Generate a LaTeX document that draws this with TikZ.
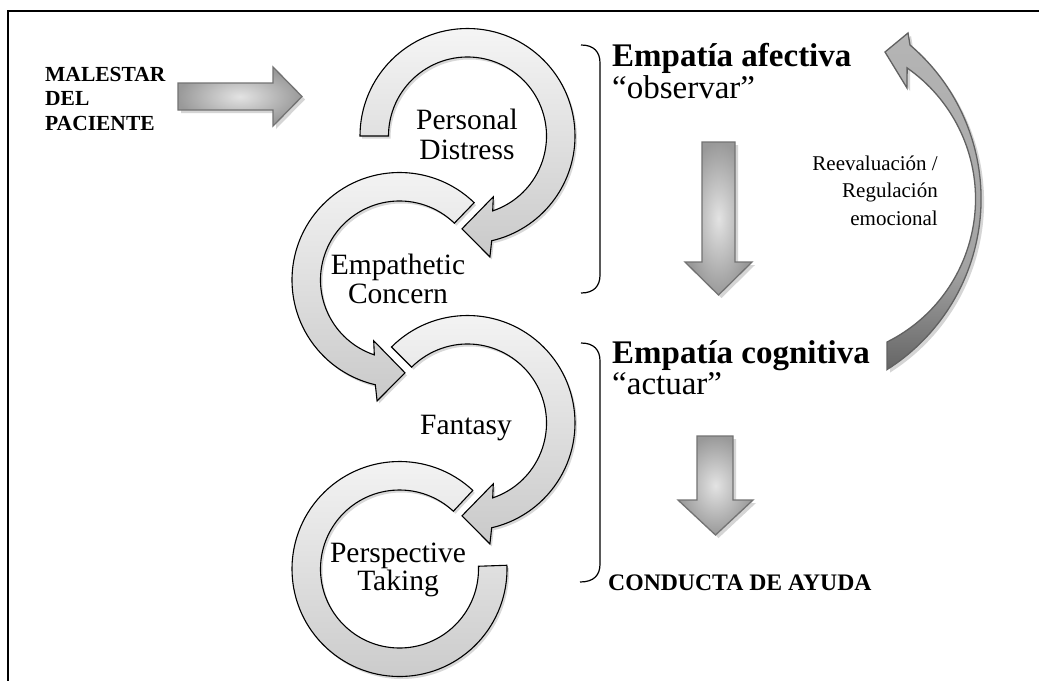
\documentclass[tikz,border=0pt]{standalone}
\usepackage{fontspec}
\setmainfont{Liberation Serif}
\usetikzlibrary{calc,shadows}
\pgfdeclareverticalshading{crescentshade}{100bp}{color(0bp)=(black!67); color(24bp)=(black!62); color(40bp)=(gray!72); color(100bp)=(gray!48)}
\begin{document}
\begin{tikzpicture}[x=1pt,y=-1pt,
  ringarrow/.style={draw=black, line width=1.1pt, top color=gray!8, bottom color=gray!42, drop shadow={opacity=0.25, fill=black!60, shadow xshift=2pt, shadow yshift=-2.5pt}},
  blockarrow/.style={draw=black!55, line width=1.3pt, inner color=gray!22, outer color=gray!80, drop shadow={fill=gray!55, opacity=0.6, shadow xshift=3pt, shadow yshift=-3pt}},
  curvedarrow/.style={draw=black!62, line width=1.3pt, shade, shading=crescentshade, drop shadow={fill=gray!55, opacity=0.6, shadow xshift=3pt, shadow yshift=-3pt}},
  bracket/.style={draw=black, line width=1.2pt},
  frameline/.style={draw=black, line width=2.2pt},
  ringlbl/.style={inner sep=0pt, anchor=base, font=\fontsize{29.5}{30}\selectfont},
  headlbl/.style={inner sep=0pt, anchor=base west, font=\fontsize{33}{34}\selectfont\bfseries},
  quotelbl/.style={inner sep=0pt, anchor=base west, font=\fontsize{33}{34}\selectfont},
  notelbl/.style={inner sep=0pt, anchor=base east, font=\fontsize{21}{22}\selectfont},
  boldlbl/.style={inner sep=0pt, anchor=base west, font=\fontsize{21.5}{22}\selectfont\bfseries},
  resultlbl/.style={inner sep=0pt, anchor=base west, font=\fontsize{23.7}{24}\selectfont\bfseries}
]
\useasboundingbox (0,0) rectangle (1039,681);
\fill[white] (0,0) rectangle (1039,681);

% frame (cropped)
\draw[frameline] (1039,11) -- (8,11) -- (8,681);

% ring centres
\coordinate (c1) at (467.5,136);
\coordinate (c2) at (399.5,280);
\coordinate (c3) at (467.5,423);
\coordinate (c4) at (399.5,569);

% ring 4: Perspective Taking (no head)
\path[ringarrow] ($(c4)+(-47:107.5)$) arc[start angle=-47, end angle=-362, radius=107.5]
  -- ($(c4)+(-362:79)$) arc[start angle=-362, end angle=-47, radius=79] -- cycle;

% ring 3: Fantasy (clockwise)
\path[ringarrow] ($(c3)+(225:107.5)$) arc[start angle=225, end angle=437, radius=107.5]
  -- ($(c3)+(79.5:123)$) -- ($(c3)+(93.4:93)$) -- ($(c3)+(67:66)$)
  -- ($(c3)+(71.4:79)$) arc[start angle=431.4, end angle=225, radius=79] -- cycle;

% ring 2: Empathetic Concern (counter-clockwise)
\path[ringarrow] ($(c2)+(-46:107.5)$) arc[start angle=-46, end angle=-257, radius=107.5]
  -- ($(c2)+(-259.5:123)$) -- ($(c2)+(-273.4:93)$) -- ($(c2)+(-247:66)$)
  -- ($(c2)+(-251.4:79)$) arc[start angle=-251.4, end angle=-46, radius=79] -- cycle;

% ring 1: Personal Distress (clockwise)
\path[ringarrow] ($(c1)+(180:107.5)$) arc[start angle=180, end angle=437, radius=107.5]
  -- ($(c1)+(79.5:123)$) -- ($(c1)+(93.4:93)$) -- ($(c1)+(67:66)$)
  -- ($(c1)+(71.4:79)$) arc[start angle=431.4, end angle=180, radius=79] -- cycle;

% ring labels
\node[ringlbl] (pd1) at (467,129.5) {Personal};
\node[ringlbl] (pd2) at (467,159) {Distress};
\node[ringlbl] (ec1) at (398,274) {Empathetic};
\node[ringlbl] (ec2) at (398,303) {Concern};
\node[ringlbl] (fa) at (466,434) {Fantasy};
\node[ringlbl] (pt1) at (398,562) {Perspective};
\node[ringlbl] (pt2) at (398,590) {Taking};

% block arrows
\path[blockarrow] (178,83) -- (273,83) -- (273,67) -- (302,96.5) -- (273,126) -- (273,110) -- (178,110) -- cycle;
\path[blockarrow] (702,142) -- (735,142) -- (735,262) -- (752,262) -- (718.5,295) -- (685,262) -- (702,262) -- cycle;
\path[blockarrow] (697,436) -- (733,436) -- (733,500) -- (753,500) -- (715.5,535) -- (678,500) -- (697,500) -- cycle;

% curved return arrow
\path[curvedarrow] (885,52) -- (908,33) -- (910,45) arc[start angle=-49.6, end angle=57.7, radius=202]
  -- (887,342) arc[start angle=63.5, end angle=-55.1, radius=159.8] -- (907,88) -- cycle;

% brackets
\draw[bracket] (581,45) .. controls (594,45) and (600,52) .. (600,63) -- (600,275) .. controls (600,286) and (594,293) .. (581,293);
\draw[bracket] (581,343) .. controls (594,343) and (600,350) .. (600,361) -- (600,564) .. controls (600,575) and (594,582) .. (580,582);

% texts
\node[boldlbl] (m1) at (45,81) {MALESTAR};
\node[boldlbl] (m2) at (45,105.5) {DEL};
\node[boldlbl] (m3) at (45,130) {PACIENTE};

\node[headlbl] (ea) at (612,66) {Empatía afectiva};
\node[quotelbl] (obs) at (612,98) {“observar”};
\node[headlbl] (ecog) at (612,363) {Empatía cognitiva};
\node[quotelbl] (act) at (612,394) {“actuar”};

\node[notelbl] (r1) at (938,170) {Reevaluación /};
\node[notelbl] (r2) at (938,197.5) {Regulación};
\node[notelbl] (r3) at (938,225.5) {emocional};

\node[resultlbl] (cda) at (608,590) {CONDUCTA DE AYUDA};
\end{tikzpicture}
\end{document}
